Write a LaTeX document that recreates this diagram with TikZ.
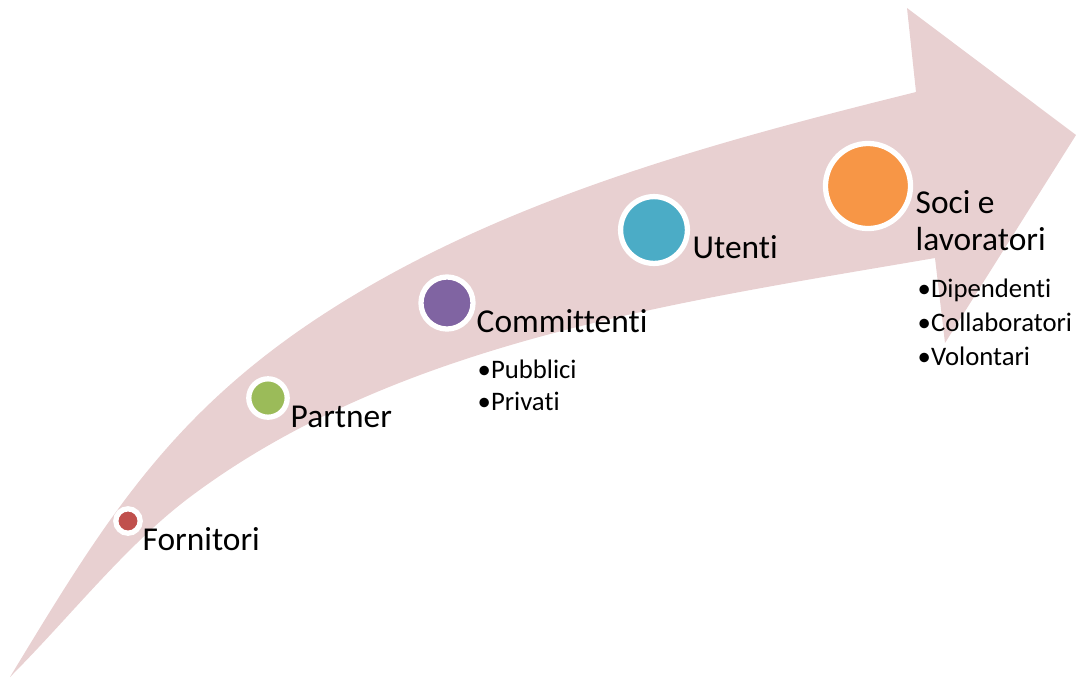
\documentclass[tikz,border=0pt]{standalone}
\usepackage{fontspec}
\setmainfont[Ligatures=NoCommon]{Carlito}
\definecolor{arrowpink}{RGB}{232,208,209}
\definecolor{dotred}{RGB}{192,80,77}
\definecolor{dotgreen}{RGB}{155,187,89}
\definecolor{dotpurple}{RGB}{128,100,162}
\definecolor{dotblue}{RGB}{75,172,198}
\definecolor{dotorange}{RGB}{247,150,70}
\tikzset{
  dot/.style={circle, draw=white, line width=1.5pt, inner sep=0pt},
  bigtext/.style={anchor=base west, inner sep=0pt, font=\fontsize{9.5}{11}\selectfont},
  smalltext/.style={anchor=base west, inner sep=0pt, font=\fontsize{7.6}{9}\selectfont}
}

\begin{document}
\begin{tikzpicture}[x=0.01cm, y=-0.01cm]
      \useasboundingbox (0,0) rectangle (1076,678);
      % curved arrow
      \fill[arrowpink] (10,677) .. controls (98,532) and (161,427) .. (300,330)
        .. controls (480,205) and (703,145) .. (916,92)
        -- (907,8) -- (1076,135) -- (945,343) -- (935,258)
        .. controls (679,302) and (398,341) .. (190,497)
        .. controls (126,545) and (70,617) .. (10,677) -- cycle;

      \node[dot, fill=dotred, minimum size=0.244cm] (fornitori) at (128,521) {};
      \node[dot, fill=dotgreen, minimum size=0.384cm] (partner) at (268,398) {};
      \node[dot, fill=dotpurple, minimum size=0.52cm] (committenti) at (447,303) {};
      \node[dot, fill=dotblue, minimum size=0.668cm] (utenti) at (654,230) {};
      \node[dot, fill=dotorange, minimum size=0.85cm] (soci) at (868,186) {};

      \node[bigtext] (fornitoriLabel) at (142,550) {Fornitori};
      \node[bigtext] (partnerLabel) at (290,427) {Partner};
      \node[bigtext] (committentiLabel) at (476,332) {Committenti};
      \node[smalltext] (pubblici) at (477,378) {•Pubblici};
      \node[smalltext] (privati) at (477,410) {•Privati};
      \node[bigtext] (utentiLabel) at (692,258) {Utenti};
      \node[bigtext] (sociLabel) at (915,213) {Soci e};
      \node[bigtext] (lavoratoriLabel) at (915,250) {lavoratori};
      \node[smalltext] (dipendenti) at (917,297) {•Dipendenti};
      \node[smalltext] (collaboratori) at (917,331) {•Collaboratori};
      \node[smalltext] (volontari) at (917,365) {•Volontari};
    \end{tikzpicture}
\end{document}
